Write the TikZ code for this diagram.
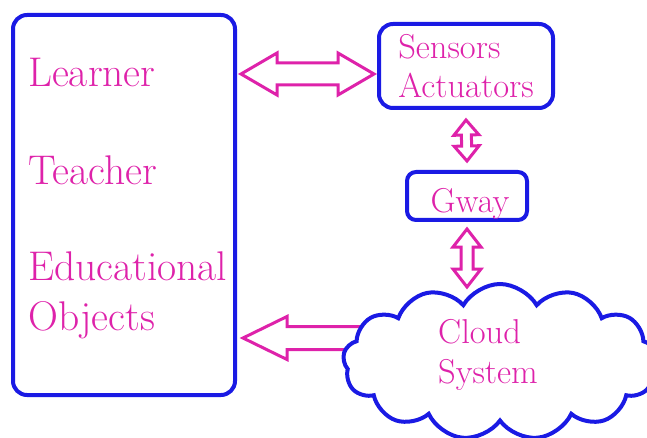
\documentclass[tikz,border=0pt]{standalone}
\usepackage{xcolor}
\usetikzlibrary{calc,shapes.symbols,backgrounds}

\definecolor{boxblue}{RGB}{26,26,228}
\definecolor{pinkmag}{RGB}{222,34,170}

\tikzset{
  box/.style={draw=boxblue, line width=4pt, rounded corners=14pt, inner sep=0pt},
  lbl/.style={text=pinkmag, inner sep=0pt, font=\fontsize{41.5}{48}\selectfont},
  slbl/.style={text=pinkmag, inner sep=0pt, font=\fontsize{34.5}{39}\selectfont},
  blockarr/.style={draw=pinkmag, line width=3pt, fill=white, line join=miter},
}

% #1,#2 tips, #3 head length, #4 head half width, #5 shaft half width
\newcommand{\dblarr}[5]{%
  \draw[blockarr] (#1) -- ($(#1)!#3!(#2)!#4!90:(#2)$) -- ($(#1)!#3!(#2)!#5!90:(#2)$)
    -- ($(#2)!#3!(#1)!#5!-90:(#1)$) -- ($(#2)!#3!(#1)!#4!-90:(#1)$) -- (#2)
    -- ($(#2)!#3!(#1)!#4!90:(#1)$) -- ($(#2)!#3!(#1)!#5!90:(#1)$)
    -- ($(#1)!#3!(#2)!#5!-90:(#2)$) -- ($(#1)!#3!(#2)!#4!-90:(#2)$) -- cycle;}
% #1 tail, #2 tip
\newcommand{\sglarr}[5]{%
  \draw[blockarr] ($(#1)!#5!90:(#2)$) -- ($(#2)!#3!(#1)!#5!-90:(#1)$)
    -- ($(#2)!#3!(#1)!#4!-90:(#1)$) -- (#2)
    -- ($(#2)!#3!(#1)!#4!90:(#1)$) -- ($(#2)!#3!(#1)!#5!90:(#1)$)
    -- ($(#1)!#5!-90:(#2)$);}

\begin{document}
\begin{tikzpicture}[x=1pt,y=-1pt]
\useasboundingbox (0,0) rectangle (647,438);

% left block
\node[box, minimum width=222pt, minimum height=380pt] (lbox) at (124,205) {};
\node[lbl, anchor=base west] (learner) at (28,87) {Learner};
\node[lbl, anchor=base west] (teacher) at (28,185) {Teacher};
\node[lbl, anchor=base west] (educ) at (28,280) {Educational};
\node[lbl, anchor=base west] (objects) at (28,330) {Objects};

% right column
\node[box, slbl, align=left, minimum width=174pt, minimum height=84pt] (sens) at (466,66) {Sensors\\Actuators};
\node[box, rounded corners=9pt, minimum width=120pt, minimum height=48pt] (gway) at (467,196) {};
\node[slbl, anchor=base] (gwaytxt) at (470,213) {Gway};

\node[cloud, cloud puffs=13, cloud puff arc=120, draw=boxblue, fill=white, line width=4pt,
  minimum width=314pt, minimum height=156pt, inner sep=0pt] (cloud) at (500,362) {};
\node[slbl, align=left, anchor=west, font=\fontsize{34.5}{40}\selectfont] (cloudtxt) at (438,355) {Cloud\\System};

% arrows
\coordinate (ta) at ($(sens.west)+(0,8)$);
\coordinate (a1) at ($(lbox.east |- ta)+(4,0)$);
\coordinate (a2) at ($(ta)+(-3,0)$);
\dblarr{a1}{a2}{36pt}{21pt}{11pt}

\coordinate (b1) at ($(sens.south)+(0,10)$);
\coordinate (b2) at ($(gway.north)+(0,-9)$);
\dblarr{b1}{b2}{15pt}{12.5pt}{5pt}

\coordinate (c1) at ($(gway.south)+(0,7)$);
\coordinate (c2) at ($(gway.south)+(0,65)$);
\dblarr{c1}{c2}{18pt}{14pt}{6pt}

\begin{scope}[on background layer]
\coordinate (d0) at ($(cloud.west)+(60,-24)$);
\coordinate (d1) at ($(lbox.east)+(6,133)$);
\sglarr{d0}{d1}{44pt}{21.5pt}{11.5pt}
\end{scope}
\end{tikzpicture}
\end{document}
